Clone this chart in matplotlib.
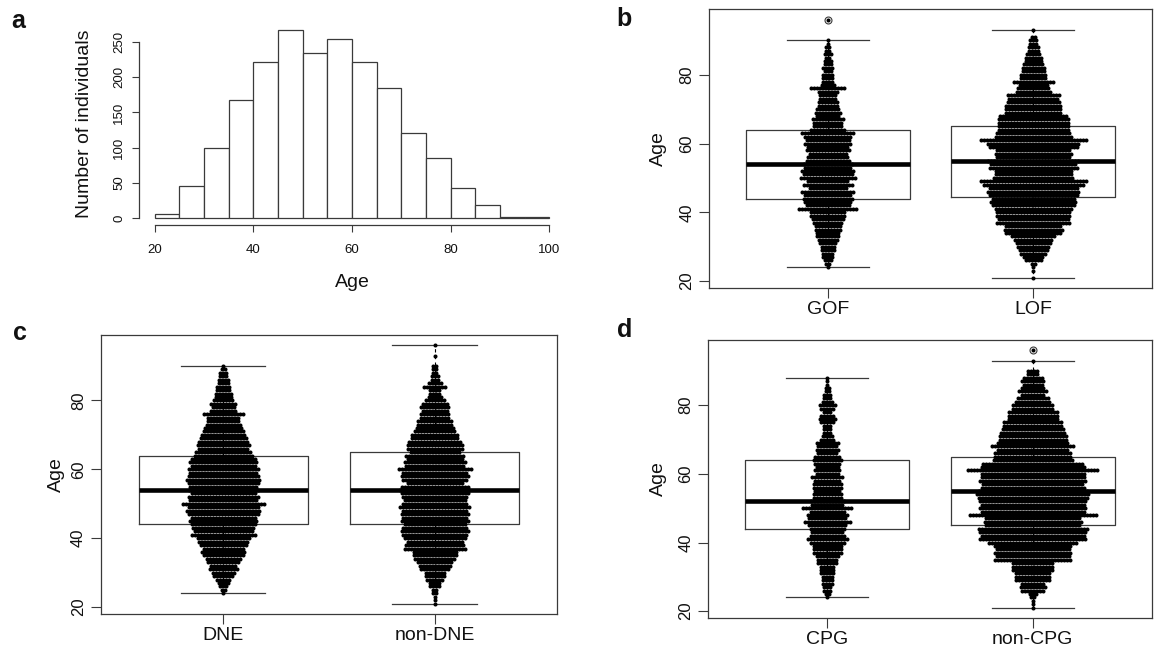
import matplotlib
matplotlib.use("Agg")
import matplotlib.pyplot as plt
import numpy as np


# ---- panel a: age histogram (5-year bins) ----
HIST_LEFT = [20, 25, 30, 35, 40, 45, 50, 55, 60, 65, 70, 75, 80, 85, 90, 95]
HIST_COUNTS = [5, 45, 100, 168, 221, 267, 234, 254, 222, 184, 121, 85, 42, 19, 1, 1]

# ---- beeswarm rows: number of individuals at each integer age ----
AGES = list(range(21, 97))

GOF_N = [0, 0, 0, 1, 2, 3, 4, 4, 5, 5,
         6, 7, 8, 8, 9, 9, 10, 11, 12, 12,
         20, 15, 16, 17, 16, 18, 13, 17, 14, 19,
         17, 18, 16, 17, 15, 14, 13, 15, 14, 16,
         15, 16, 18, 12, 10, 10, 11, 8, 9, 8,
         7, 7, 6, 6, 7, 12, 5, 4, 4, 4,
         3, 4, 3, 3, 2, 3, 2, 2, 1, 1,
         0, 0, 0, 0, 0, 1]
LOF_N = [1, 0, 1, 1, 2, 6, 7, 9, 10, 11,
         12, 13, 15, 19, 20, 19, 25, 24, 25, 25,
         26, 28, 29, 28, 30, 31, 30, 34, 36, 27,
         26, 26, 30, 29, 31, 25, 26, 25, 30, 31,
         36, 26, 25, 24, 24, 24, 24, 23, 19, 19,
         19, 18, 17, 18, 12, 11, 10, 14, 9, 9,
         8, 8, 7, 6, 6, 5, 4, 4, 3, 3,
         2, 0, 1, 0, 0, 0]
DNE_N = [0, 0, 0, 1, 2, 3, 4, 5, 7, 8,
         10, 9, 11, 12, 14, 15, 14, 16, 17, 18,
         22, 20, 21, 22, 23, 22, 24, 25, 24, 28,
         23, 24, 22, 24, 23, 24, 25, 24, 23, 24,
         22, 23, 22, 20, 19, 17, 18, 17, 16, 15,
         14, 13, 12, 11, 11, 14, 9, 8, 9, 7,
         6, 6, 5, 5, 4, 4, 3, 3, 2, 1,
         0, 0, 0, 0, 0, 0]
NONDNE_N = [1, 1, 1, 2, 2, 4, 4, 6, 7, 7,
            10, 11, 12, 14, 15, 15, 21, 20, 19, 21,
            22, 23, 22, 21, 23, 22, 23, 22, 24, 22,
            21, 22, 23, 24, 23, 19, 22, 23, 22, 25,
            20, 21, 19, 20, 17, 19, 19, 18, 16, 16,
            14, 13, 12, 12, 10, 10, 9, 10, 9, 7,
            5, 4, 4, 8, 5, 3, 3, 2, 2, 2,
            0, 0, 1, 0, 0, 1]
CPG_N = [0, 0, 0, 1, 2, 3, 3, 4, 4, 4,
         5, 5, 5, 7, 7, 8, 10, 10, 10, 12,
         14, 12, 11, 12, 13, 16, 13, 14, 12, 17,
         11, 12, 10, 10, 9, 10, 10, 9, 11, 8,
         9, 8, 9, 10, 9, 7, 8, 7, 8, 5,
         4, 3, 3, 3, 5, 6, 5, 3, 5, 6,
         4, 3, 3, 2, 2, 1, 1, 1, 0, 0,
         0, 0, 0, 0, 0, 0]
NONCPG_N = [1, 1, 1, 2, 3, 8, 9, 8, 12, 12,
            12, 14, 14, 14, 26, 25, 26, 25, 26, 30,
            36, 35, 36, 37, 32, 33, 32, 43, 35, 36,
            35, 36, 37, 38, 37, 35, 34, 36, 35, 35,
            44, 35, 34, 27, 26, 26, 24, 28, 24, 23,
            23, 22, 21, 20, 20, 17, 17, 17, 14, 14,
            12, 11, 8, 10, 8, 7, 8, 7, 4, 4,
            0, 0, 1, 0, 0, 1]

# ---- box statistics ----
B_LABELS = ["GOF", "LOF"]
B_Q1, B_MED, B_Q3 = [44, 44.5], [54, 55], [64, 65]
B_WLO, B_WHI, B_OUT = [24, 21], [90, 93], [[96], []]

C_LABELS = ["DNE", "non-DNE"]
C_Q1, C_MED, C_Q3 = [44, 44], [54, 54], [64, 65]
C_WLO, C_WHI, C_OUT = [24, 21], [90, 96], [[], []]

D_LABELS = ["CPG", "non-CPG"]
D_Q1, D_MED, D_Q3 = [44, 45], [52, 55], [64, 65]
D_WLO, D_WHI, D_OUT = [24, 21], [88, 93], [[], [96]]

LINE_COL = "#3a3a3a"
TEXT_COL = "#111111"
FIG_W, FIG_H, DPI = 11.57, 6.54, 100
DOT_PX = 3.0


def draw_hist(ax):
    ax.bar(HIST_LEFT, HIST_COUNTS, width=5, align="edge", facecolor="white",
           edgecolor=LINE_COL, linewidth=0.9)
    ax.set_xlim(16.8, 103.2)
    ax.set_ylim(-10.68, 277.68)
    for side in ("top", "right"):
        ax.spines[side].set_visible(False)
    ax.spines["left"].set_bounds(0, 250)
    ax.spines["bottom"].set_bounds(20, 100)
    for side in ("left", "bottom"):
        ax.spines[side].set_color(LINE_COL)
        ax.spines[side].set_linewidth(0.9)
    ax.set_xticks([20, 40, 60, 80, 100])
    ax.set_yticks([0, 50, 100, 150, 200, 250])
    ax.tick_params(axis="both", length=5, width=0.8, color=LINE_COL,
                   labelsize=9.5, labelcolor=TEXT_COL)
    ax.tick_params(axis="x", pad=8)
    ax.tick_params(axis="y", pad=5)
    for lab in ax.get_yticklabels():
        lab.set_rotation(90)
        lab.set_va("center")
    ax.set_xlabel("Age", fontsize=14, color=TEXT_COL, va="center")
    ax.set_ylabel("Number of individuals", fontsize=14, color=TEXT_COL, va="center")
    ax.xaxis.set_label_coords(0.5, -0.283)
    ax.yaxis.set_label_coords(-0.129, 0.5)


def draw_swarm_box(ax, labels, counts_list, q1, med, q3, wlo, whi, outs, ylab_x):
    stats = []
    for i in range(2):
        stats.append(dict(label=labels[i], q1=q1[i], med=med[i], q3=q3[i],
                          whislo=wlo[i], whishi=whi[i], fliers=outs[i]))
    ax.bxp(stats, positions=[1, 2], widths=0.8,
           boxprops=dict(color=LINE_COL, linewidth=0.9),
           whiskerprops=dict(color="black", linewidth=0.8, linestyle=(0, (3, 3))),
           capprops=dict(color=LINE_COL, linewidth=0.9),
           medianprops=dict(color="black", linewidth=3.3, solid_capstyle="butt", zorder=4),
           flierprops=dict(marker="o", markerfacecolor="none", markeredgecolor=LINE_COL,
                           markersize=5, markeredgewidth=0.8, zorder=5))

    ax.set_xlim(0.42, 2.58)
    ax.set_ylim(18, 99)

    # horizontal spacing of dots, in data units
    ax_w_px = ax.get_position().width * FIG_W * DPI
    dx = DOT_PX * 2.16 / ax_w_px
    for pos, counts in zip([1, 2], counts_list):
        xs, ys = [], []
        for age, n in zip(AGES, counts):
            if n == 0:
                continue
            offs = (np.arange(n) - (n - 1) / 2.0) * dx
            xs.extend(pos + offs)
            ys.extend([age] * n)
        ax.scatter(xs, ys, s=8.5, c="black", linewidths=0, zorder=3)

    for sp in ax.spines.values():
        sp.set_color(LINE_COL)
        sp.set_linewidth(0.9)
    ax.set_yticks([20, 40, 60, 80])
    ax.tick_params(axis="both", length=7, width=0.8, color=LINE_COL, labelcolor=TEXT_COL)
    ax.tick_params(axis="y", labelsize=12, pad=3.5)
    ax.tick_params(axis="x", labelsize=14, pad=2.5)
    for lab in ax.get_yticklabels():
        lab.set_rotation(90)
        lab.set_va("center")
    ax.set_ylabel("Age", fontsize=14, color=TEXT_COL, va="center")
    ax.yaxis.set_label_coords(ylab_x, 0.5)


def main():
    plt.rcParams.update({"font.family": ["Liberation Sans", "DejaVu Sans"]})
    fig = plt.figure(figsize=(FIG_W, FIG_H), dpi=DPI)

    ax_a = fig.add_axes([0.1201, 0.6552, 0.3682, 0.3104])
    ax_b = fig.add_axes([0.6128, 0.5596, 0.3829, 0.4261])
    ax_c = fig.add_axes([0.0869, 0.0612, 0.3946, 0.4266])
    ax_d = fig.add_axes([0.6119, 0.0550, 0.3838, 0.4251])

    draw_hist(ax_a)
    draw_swarm_box(ax_b, B_LABELS, [GOF_N, LOF_N], B_Q1, B_MED, B_Q3,
                   B_WLO, B_WHI, B_OUT, -0.115)
    draw_swarm_box(ax_c, C_LABELS, [DNE_N, NONDNE_N], C_Q1, C_MED, C_Q3,
                   C_WLO, C_WHI, C_OUT, -0.0975)
    draw_swarm_box(ax_d, D_LABELS, [CPG_N, NONCPG_N], D_Q1, D_MED, D_Q3,
                   D_WLO, D_WHI, D_OUT, -0.1126)

    for letter, x, y in [("a", 0.0156, 0.968), ("b", 0.5393, 0.971),
                         ("c", 0.0173, 0.491), ("d", 0.5402, 0.495)]:
        fig.text(x, y, letter, fontsize=18, fontweight="bold", color=TEXT_COL,
                 ha="center", va="center")

    fig.savefig("out.png", dpi=DPI)
    plt.close(fig)


if __name__ == "__main__":
    main()
